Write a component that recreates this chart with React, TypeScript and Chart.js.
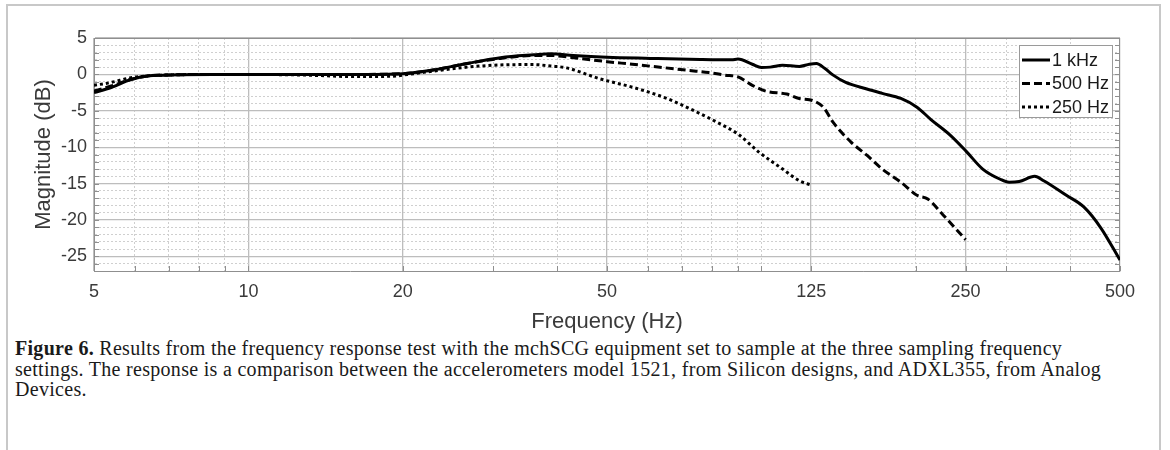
import React, { useEffect, useRef } from 'react';
import { Chart, registerables } from 'chart.js';

Chart.register(...registerables);

// ---- Data ----
const freq1k = [5, 5.4, 5.9, 6.4, 7.3, 8.5, 10, 13, 16, 20, 22.9, 26.7, 31, 36, 38.8, 43, 50, 60.7, 76, 87.5, 90, 96, 100, 104, 110, 118.5, 124, 128, 133, 138, 146, 160.5, 172, 187, 201, 214, 233, 251, 270, 292, 304, 318, 341, 355, 393, 425, 459, 500];
const mag1k = [-2.5, -1.8, -0.7, -0.2, -0.05, 0, 0, 0, 0, 0.1, 0.6, 1.5, 2.3, 2.7, 2.85, 2.6, 2.35, 2.2, 2.05, 2.0, 2.1, 1.4, 0.95, 1.0, 1.25, 1.1, 1.4, 1.5, 0.8, -0.1, -1.1, -2.0, -2.6, -3.3, -4.5, -6.2, -8.3, -10.6, -13.0, -14.4, -14.8, -14.7, -14.0, -14.6, -16.6, -18.2, -21.1, -25.5];

const freq500 = [5, 5.4, 5.9, 6.4, 7.3, 8.5, 10, 13, 16, 20, 22.9, 26.7, 31, 36, 38.8, 43, 50, 56, 65, 72, 79, 85, 90, 96, 102, 112, 118.5, 126, 132, 138, 149.5, 160.5, 172, 187, 201, 211, 226, 240, 250];
const mag500 = [-2.3, -1.6, -0.7, -0.2, -0.05, 0, 0, 0, 0, 0.1, 0.6, 1.5, 2.2, 2.6, 2.6, 2.3, 1.75, 1.4, 0.9, 0.55, 0.25, -0.1, -0.35, -1.5, -2.3, -2.7, -3.3, -3.6, -4.5, -6.6, -9.3, -11.1, -13.0, -14.8, -16.6, -17.1, -19.3, -21.3, -22.7];

const freq250 = [5, 5.4, 5.9, 6.4, 7.3, 8.5, 10, 13, 16, 19, 21, 22.9, 26.7, 31, 36, 38.8, 41.7, 48.4, 56.3, 65.4, 76, 81.6, 90, 99, 110, 118.5, 125];
const mag250 = [-1.5, -1.1, -0.45, -0.2, -0.05, 0, 0, -0.1, -0.3, -0.25, 0.1, 0.45, 1.0, 1.3, 1.35, 1.15, 0.9, -0.6, -1.8, -3.3, -5.4, -6.5, -8.2, -10.7, -13.0, -14.6, -15.2];

const seriesLabels = ['1 kHz', '500 Hz', '250 Hz'];

const xMajorTicks = [5, 10, 20, 50, 125, 250, 500];
const xMinorTicks = [6, 7, 8, 9, 30, 40, 60, 70, 80, 90, 100, 200, 300, 400];
const yLabelStep = 5;

const xTitle = 'Frequency (Hz)';
const yTitle = 'Magnitude (dB)';

const FONT = "'Liberation Sans', Arial, Helvetica, sans-serif";
const TEXT = '#3a3a3a';
const MAJOR_GRID = '#bdbdbd';
const MINOR_GRID = '#cfcfcf';
const AXIS = '#8f8f8f';

const toPts = (xs: number[], ys: number[]) => xs.map((x, i) => ({ x, y: ys[i] }));

const boxPlugin = {
  id: 'boxAndTicks',
  beforeDatasetsDraw(chart: any) {
    const { ctx, chartArea } = chart;
    const { left, right, top, bottom } = chartArea;
    const xs = chart.scales.x;
    const ys = chart.scales.y;
    ctx.save();
    ctx.strokeStyle = AXIS;
    ctx.lineWidth = 1;
    ctx.setLineDash([]);
    ctx.beginPath();
    xs.ticks.forEach((t: any) => {
      const px = Math.round(xs.getPixelForValue(t.value)) + 0.5;
      ctx.moveTo(px, bottom);
      ctx.lineTo(px, bottom - 5);
    });
    ys.ticks.forEach((t: any) => {
      const py = Math.round(ys.getPixelForValue(t.value)) + 0.5;
      ctx.moveTo(left, py);
      ctx.lineTo(left + 5, py);
      ctx.moveTo(right, py);
      ctx.lineTo(right - 5, py);
    });
    ctx.stroke();
    ctx.beginPath();
    ctx.moveTo(left, Math.round(top) + 0.5);
    ctx.lineTo(right, Math.round(top) + 0.5);
    ctx.moveTo(Math.round(right) - 0.5, top);
    ctx.lineTo(Math.round(right) - 0.5, bottom);
    ctx.stroke();
    ctx.restore();
  },
  afterDatasetsDraw(chart: any) {
    const { ctx, chartArea } = chart;
    const w = 93;
    const h = 72;
    const x0 = Math.round(chartArea.right - 8 - w);
    const y0 = Math.round(chartArea.top + 7);
    ctx.save();
    ctx.fillStyle = '#ffffff';
    ctx.fillRect(x0, y0, w, h);
    ctx.strokeStyle = '#9a9a9a';
    ctx.lineWidth = 1;
    ctx.setLineDash([]);
    ctx.strokeRect(x0 + 0.5, y0 + 0.5, w, h);
    chart.data.datasets.forEach((ds: any, i: number) => {
      const y = y0 + 15 + i * 23.5;
      ctx.beginPath();
      ctx.setLineDash(ds.borderDash || []);
      ctx.lineWidth = ds.borderWidth;
      ctx.strokeStyle = ds.borderColor;
      ctx.moveTo(x0 + 3, y);
      ctx.lineTo(x0 + 31, y);
      ctx.stroke();
      ctx.setLineDash([]);
      ctx.fillStyle = '#1a1a1a';
      ctx.font = `18px ${FONT}`;
      ctx.textBaseline = 'middle';
      ctx.textAlign = 'left';
      ctx.fillText(ds.label, x0 + 33, y + 1);
    });
    ctx.restore();
  },
};

export default function App() {
  const canvasRef = useRef<HTMLCanvasElement | null>(null);

  useEffect(() => {
    const canvas = canvasRef.current;
    if (!canvas) return;
    const isXMajor = (v: number) => xMajorTicks.includes(v);
    const isYMajor = (v: number) => Math.abs(v % yLabelStep) < 1e-9;

    const chart = new Chart(canvas, {
      type: 'line',
      data: {
        datasets: [
          {
            label: seriesLabels[0],
            data: toPts(freq1k, mag1k),
            borderColor: '#000000',
            borderWidth: 3,
            borderDash: [],
            pointRadius: 0,
            cubicInterpolationMode: 'monotone',
            fill: false,
          },
          {
            label: seriesLabels[1],
            data: toPts(freq500, mag500),
            borderColor: '#000000',
            borderWidth: 3,
            borderDash: [8, 4],
            pointRadius: 0,
            cubicInterpolationMode: 'monotone',
            fill: false,
          },
          {
            label: seriesLabels[2],
            data: toPts(freq250, mag250),
            borderColor: '#000000',
            borderWidth: 3,
            borderDash: [3, 3],
            pointRadius: 0,
            cubicInterpolationMode: 'monotone',
            fill: false,
          },
        ],
      },
      options: {
        animation: false,
        responsive: false,
        maintainAspectRatio: false,
        devicePixelRatio: 1,
        layout: { padding: { left: 31, top: 38, right: 50, bottom: 0 } },
        plugins: {
          legend: { display: false },
          tooltip: { enabled: false },
        },
        scales: {
          x: {
            type: 'logarithmic',
            min: 5,
            max: 500,
            afterBuildTicks: (scale: any) => {
              const all = [...xMajorTicks, ...xMinorTicks].sort((a, b) => a - b);
              scale.ticks = all.map((v) => ({ value: v }));
            },
            afterFit: (scale: any) => {
              scale.height = 64;
            },
            ticks: {
              autoSkip: false,
              maxRotation: 0,
              minRotation: 0,
              padding: 10,
              color: TEXT,
              font: { family: FONT, size: 18 },
              callback: (value: any) => (isXMajor(Number(value)) ? String(value) : ''),
            },
            grid: {
              drawTicks: false,
              color: (ctx: any) => (ctx.tick && isXMajor(ctx.tick.value) ? MAJOR_GRID : MINOR_GRID),
              lineWidth: (ctx: any) => (ctx.tick && isXMajor(ctx.tick.value) ? 1.3 : 1),
            },
            border: {
              color: AXIS,
              width: 1,
              dash: (ctx: any) => (ctx.tick && !isXMajor(ctx.tick.value) ? [2, 2] : []),
            },
            title: {
              display: true,
              text: xTitle,
              color: TEXT,
              padding: 0,
              font: { family: FONT, size: 22 },
            },
          },
          y: {
            type: 'linear',
            min: -27,
            max: 5,
            afterFit: (scale: any) => {
              scale.width = 63;
            },
            ticks: {
              stepSize: 1,
              autoSkip: false,
              padding: 7,
              color: TEXT,
              font: { family: FONT, size: 18 },
              callback: (value: any) => (isYMajor(Number(value)) ? String(value) : ''),
            },
            grid: {
              drawTicks: false,
              color: (ctx: any) => (ctx.tick && isYMajor(ctx.tick.value) ? MAJOR_GRID : MINOR_GRID),
              lineWidth: (ctx: any) => (ctx.tick && isYMajor(ctx.tick.value) ? 1.3 : 1),
            },
            border: {
              color: AXIS,
              width: 1,
              dash: (ctx: any) => (ctx.tick && !isYMajor(ctx.tick.value) ? [2, 2] : []),
            },
            title: {
              display: true,
              text: yTitle,
              color: TEXT,
              padding: 0,
              font: { family: FONT, size: 22 },
            },
          },
        },
      } as any,
      plugins: [boxPlugin],
    });
    return () => chart.destroy();
  }, []);

  return (
    <div>
      <div
        style={{
          position: 'absolute',
          left: 6,
          top: 4,
          width: 1155,
          height: 446,
          boxSizing: 'border-box',
          borderLeft: '2px solid #c8c8c8',
          borderTop: '2px solid #c8c8c8',
          borderRight: '2px solid #c8c8c8',
        }}
      />
      <canvas
        ref={canvasRef}
        width={1170}
        height={335}
        style={{ position: 'absolute', left: 0, top: 0, width: 1170, height: 335 }}
      />
      <div
        style={{
          position: 'absolute',
          left: 15,
          top: 338,
          width: 1120,
          fontFamily: "'Liberation Serif', 'Times New Roman', serif",
          fontSize: 20,
          letterSpacing: '0.3px',
          lineHeight: '20.5px',
          color: '#1a1a1a',
          whiteSpace: 'nowrap',
        }}
      >
        <b>Figure 6.</b> Results from the frequency response test with the mchSCG equipment set to sample at the three sampling frequency
        <br />
        settings. The response is a comparison between the accelerometers model 1521, from Silicon designs, and ADXL355, from Analog
        <br />
        Devices.
      </div>
    </div>
  );
}
